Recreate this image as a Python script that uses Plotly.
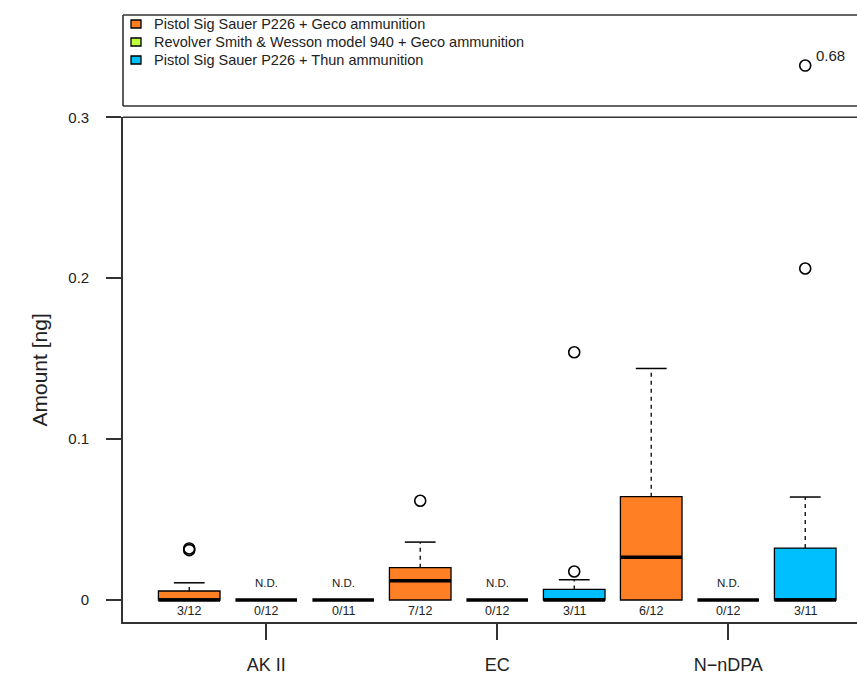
import plotly.graph_objects as go

# ---------------- data ----------------
groups = ["AK II", "EC", "N\u2212nDPA"]
series = [
    "Pistol Sig Sauer P226 + Geco ammunition",
    "Revolver Smith & Wesson model 940 + Geco ammunition",
    "Pistol Sig Sauer P226 + Thun ammunition",
]
colors = ["#FF7F24", "#C0FF3E", "#00BFFF"]

# boxes in order: group x series
box_series = [0, 1, 2, 0, 1, 2, 0, 1, 2]
q1 =        [0, 0, 0, 0,      0, 0,      0,      0, 0]
median =    [0, 0, 0, 0.012,  0, 0,      0.0265, 0, 0]
q3 =        [0.0056, 0, 0, 0.0201, 0, 0.0066, 0.0642, 0, 0.0323]
whisk_hi =  [0.0107, 0, 0, 0.036,  0, 0.0126, 0.1439, 0, 0.064]
outliers = [[0.031, 0.032], [], [], [0.0617], [], [0.0177, 0.154], [], [], [0.206]]
outliers_high = [[], [], [], [], [], [], [], [], [0.68]]   # beyond axis break
counts = ["3/12", "0/12", "0/11", "7/12", "0/12", "3/11", "6/12", "0/12", "3/11"]
not_detected = [False, True, True, False, True, False, False, True, False]

W, H = 857, 677
L, R, T, B = 123, 857, 15, 622   # plot area pixels
box_w = 0.8
cap_w = 0.4


def pxx(px):
    return (px - L) / (R - L)


def pxy(py):
    return (B - py) / (B - T)


positions = list(range(1, len(counts) + 1))

fig = go.Figure()

# boxes (one trace per series)
for s in range(3):
    idx = [i for i in range(len(positions)) if box_series[i] == s and not not_detected[i]]
    if not idx:
        continue
    fig.add_trace(go.Box(
        x=[positions[i] for i in idx],
        q1=[q1[i] for i in idx], median=[median[i] for i in idx], q3=[q3[i] for i in idx],
        lowerfence=[q1[i] for i in idx], upperfence=[q3[i] for i in idx],
        width=box_w, fillcolor=colors[s], line=dict(color="black", width=1.3),
        boxpoints=False, hoverinfo="skip", showlegend=False,
    ))

# whiskers, caps, thick medians
for i, p in enumerate(positions):
    if whisk_hi[i] > q3[i]:
        fig.add_trace(go.Scatter(x=[p, p], y=[q3[i], whisk_hi[i]], mode="lines",
                                 line=dict(color="black", width=1.3, dash="4px,4px"),
                                 hoverinfo="skip", showlegend=False))
        fig.add_trace(go.Scatter(x=[p - cap_w / 2, p + cap_w / 2], y=[whisk_hi[i]] * 2, mode="lines",
                                 line=dict(color="black", width=1.5),
                                 hoverinfo="skip", showlegend=False))
    fig.add_trace(go.Scatter(x=[p - box_w / 2, p + box_w / 2], y=[median[i]] * 2, mode="lines",
                             line=dict(color="black", width=3.5),
                             hoverinfo="skip", showlegend=False))

# outliers
ox, oy = [], []
for i, p in enumerate(positions):
    for v in outliers[i]:
        ox.append(p)
        oy.append(v)
fig.add_trace(go.Scatter(x=ox, y=oy, mode="markers",
                         marker=dict(symbol="circle-open", size=11, color="black", line=dict(width=1.6)),
                         hoverinfo="skip", showlegend=False))
hx, hy = [], []
for i, p in enumerate(positions):
    for v in outliers_high[i]:
        hx.append(p)
        hy.append(v)
fig.add_trace(go.Scatter(x=hx, y=hy, mode="markers", yaxis="y2",
                         marker=dict(symbol="circle-open", size=11, color="black", line=dict(width=1.6)),
                         hoverinfo="skip", showlegend=False))
for x, v in zip(hx, hy):
    fig.add_annotation(x=x, y=v, xref="x", yref="y2", text=f"{v:.2f}", showarrow=False,
                       xanchor="left", yanchor="middle", xshift=9, yshift=10,
                       font=dict(size=15, color="#222"))

# count labels and N.D.
for i, p in enumerate(positions):
    fig.add_annotation(x=p, y=0, xref="x", yref="y", text=counts[i], showarrow=False,
                       yanchor="middle", yshift=-11, font=dict(size=12.5, color="#222"))
    if not_detected[i]:
        fig.add_annotation(x=p, y=0, xref="x", yref="y", text="N.D.", showarrow=False,
                           yanchor="middle", yshift=17, font=dict(size=11.5, color="#222"))

# legend (manual, R-style)
for k, name in enumerate(series):
    cy = 24 + 18 * k
    fig.add_shape(type="rect", xref="paper", yref="paper",
                  x0=pxx(131), x1=pxx(141), y0=pxy(cy + 4), y1=pxy(cy - 4),
                  fillcolor=colors[k], line=dict(color="black", width=1.3))
    fig.add_annotation(x=pxx(152), y=pxy(cy), xref="paper", yref="paper", text=name,
                       showarrow=False, xanchor="left", yanchor="middle",
                       font=dict(size=14.5, color="#222"))

# borders
line_c = "#333333"
for (x0, y0, x1, y1) in [(L, 15, R + 5, 15), (L, 106, R + 5, 106), (L, 15, L, 106),
                         (L, 117.3, R + 5, 117.3)]:
    fig.add_shape(type="line", xref="paper", yref="paper",
                  x0=pxx(x0), x1=pxx(x1), y0=pxy(y0), y1=pxy(y1),
                  line=dict(color=line_c, width=1.6))

# y-axis title
fig.add_annotation(x=pxx(25), y=pxy(370), xref="paper", yref="paper", text="Amount [ng]",
                   showarrow=False, textangle=-90, font=dict(size=21, color="#222"))

y_lo = -22 / 1610.0
main_top = pxy(117.3)
up_bot = pxy(106)
tick_vals_x = [2, 5, 8]
fig.update_layout(
    width=W, height=H,
    margin=dict(l=L, r=W - R, t=T, b=H - B),
    paper_bgcolor="white", plot_bgcolor="white",
    font=dict(family="Liberation Sans, Arial, sans-serif", color="#222"),
    showlegend=False,
    xaxis=dict(range=[0.14, 0.14 + (R - L) / 77.0], tickvals=tick_vals_x, ticktext=groups,
               showgrid=False, zeroline=False, showline=True, linecolor=line_c, linewidth=1.6,
               ticks="outside", ticklen=16, tickwidth=1.5, tickcolor=line_c,
               ticklabelstandoff=10, tickfont=dict(size=18, color="#222")),
    yaxis=dict(domain=[0, main_top], range=[y_lo, 0.3], tickvals=[0, 0.1, 0.2, 0.3],
               ticktext=["0", "0.1", "0.2", "0.3"],
               showgrid=False, zeroline=False, showline=True, linecolor=line_c, linewidth=1.6,
               ticks="outside", ticklen=15, tickwidth=1.5, tickcolor=line_c,
               ticklabelstandoff=14, tickfont=dict(size=15, color="#222")),
    yaxis2=dict(domain=[up_bot, 1], range=[0.6, 0.78], anchor="x", showgrid=False,
                zeroline=False, showline=False, showticklabels=False, ticks=""),
)

fig.write_html("out.html", config={"displayModeBar": False},
               post_script="document.body.style.margin='0px';")
